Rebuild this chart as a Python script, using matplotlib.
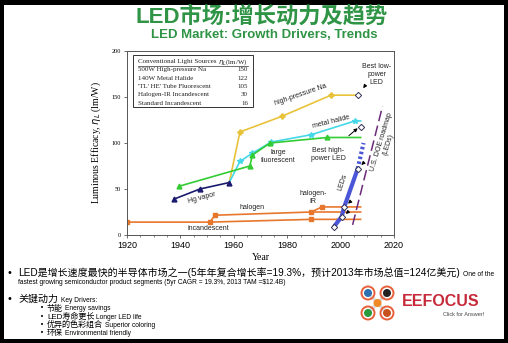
import numpy as np
import matplotlib.pyplot as plt
from matplotlib.patches import Rectangle, Circle
from matplotlib.ticker import MultipleLocator

# data
hg_years = [1937.6, 1947.3, 1958.3]
hg_vals = [39, 50, 57]
fluor_years = [1939.5, 1966, 1967, 1973.6, 1995, 2007.5]
fluor_vals = [53, 75, 87, 100, 106, 106]
halide_years = [1958.3, 1962.3, 1967, 1974, 1989, 2005.4, 2007.5]
halide_vals = [57, 80, 89, 101, 109, 124, 124]
na_years = [1958.3, 1962.3, 1978, 1996.4, 2006.5]
na_vals = [57, 112, 129, 152, 152]
incand_years = [1920, 1951, 1989, 2007.5]
incand_vals = [14, 14, 17, 17]
halogen_years = [1951, 1953, 1989, 2007.5]
halogen_vals = [14, 21.5, 25, 25]
halir_years = [1989, 1993, 2007.5]
halir_vals = [25, 30.5, 30.5]
led_years = [1997.5, 2000.4, 2001.3, 2006.4]
led_vals = [9, 20, 30, 72]
led_proj_years = [2006.4, 2008.6]
led_proj_vals = [72, 100]
best_years = [1997.5, 2000.4, 2001.3, 2006.4, 2007.5, 2006.5]
best_vals = [9, 20, 30, 72, 117, 152]
doe_years = [2004.5, 2015.7]
doe_vals = [11, 140]

table_sources = ["500W High-pressure Na", "140W Metal Halide",
                 "'TL' HE' Tube Fluorescent", "Halogen-IR Incandescent",
                 "Standard Incandescent"]
table_eff = [150, 122, 105, 30, 16]

W, H = 508, 343
def fx(x): return x / W
def fy(y): return 1 - y / H

fig = plt.figure(figsize=(W / 100, H / 100), dpi=100, facecolor='black')
fig.patches.append(Rectangle((4 / W, 4 / H), 500 / W, 334 / H,
                             transform=fig.transFigure, facecolor='white',
                             edgecolor='none', zorder=-10))

cjk = ['Liberation Sans', 'Noto Sans CJK SC']
green = '#2f9445'
fig.text(fx(262), fy(17), "LED市场:增长动力及趋势", family=cjk, fontsize=16,
         fontweight='bold', color=green, ha='center', va='center')
fig.text(fx(264), fy(35), "LED Market: Growth Drivers, Trends",
         family='Liberation Sans', fontsize=9.5, fontweight='bold',
         color=green, ha='center', va='center')

ax = fig.add_axes([127 / W, 1 - 235 / H, 267 / W, 184 / H])
ax.set_facecolor('white')

orange = '#e8772e'
ax.plot(incand_years, incand_vals, color=orange, lw=1.2, marker='s', ms=3.5,
        markevery=[0, 1, 2])
ax.plot(halogen_years, halogen_vals, color=orange, lw=1.2, marker='s', ms=3.5,
        markevery=[1, 2])
ax.plot(halir_years, halir_vals, color=orange, lw=1.2, marker='s', ms=3.5,
        markevery=[1])
ax.plot(na_years, na_vals, color='#e8c33a', lw=1.2, marker='P', ms=3.5,
        markevery=[1, 2, 3])
ax.plot(halide_years, halide_vals, color='#45d8e8', lw=1.2, marker='*', ms=4,
        markevery=[1, 2, 3, 4, 5])
ax.plot(fluor_years, fluor_vals, color='#33cc33', lw=1.2, marker='^', ms=3.5,
        markevery=[0, 1, 2, 3, 4])
ax.plot(hg_years, hg_vals, color='#1a1a70', lw=1.2, marker='^', ms=3.5)
ax.plot(led_years, led_vals, color='#4a55d8', lw=3, solid_capstyle='butt')
ax.plot(led_proj_years, led_proj_vals, color='#4a55d8', lw=3, ls=(0, (0.6, 0.6)))
ax.plot(doe_years, doe_vals, color='#6b2a7a', lw=1.1, ls=(0, (7, 3)))
ax.plot(best_years, best_vals, ls='none', marker='D', ms=3.2, mfc='white',
        mec='#333355', mew=0.7, zorder=5)

arr = dict(arrowstyle='-|>', color='black', lw=0.7, mutation_scale=5)
ax.annotate('', xy=(2007.2, 118), xytext=(2002.3, 106), arrowprops=arr)
ax.annotate('', xy=(2007.9, 157), xytext=(2009.8, 165), arrowprops=arr)
ax.annotate('', xy=(2002.0, 32), xytext=(2004.3, 38), arrowprops=arr)
ax.annotate('', xy=(2001.1, 21), xytext=(2003.2, 26), arrowprops=arr)
ax.annotate('', xy=(2007.0, 74), xytext=(2009.2, 80), arrowprops=arr)

lab = dict(family='Liberation Sans', fontsize=5, color='#222222',
           ha='center', va='center')
ax.text(1985, 152, "high-pressure Na", rotation=19, **lab)
ax.text(1996.4, 123, "metal halide", rotation=14, **lab)
ax.text(1976.5, 85, "large\nfluorescent", **lab)
ax.text(1995.3, 88, "Best high-\npower LED", **lab)
ax.text(2013.5, 174, "Best low-\npower\nLED", **lab)
ax.text(1948, 40, "Hg vapor", rotation=15, **lab)
ax.text(1967, 30, "halogen", **lab)
ax.text(1989.7, 41, "halogen-\nIR", **lab)
ax.text(1950.4, 7.6, "incandescent", **lab)
ax.text(2000.6, 57, "LEDs", rotation=72, **lab)
ax.text(2016.6, 100, "U.S. DOE roadmap\n(LEDs)", rotation=73, **lab)

# conventional sources table
ax.add_patch(Rectangle((0.022, 0.696), 0.45, 0.282, transform=ax.transAxes,
                       facecolor='white', edgecolor='#333333', lw=0.7, zorder=6))
serif = dict(family='Liberation Serif', fontsize=5, color='#222222',
             va='center', transform=ax.transAxes, zorder=7)
ax.text(0.041, 0.942, "Conventional Light Sources", ha='left', **serif)
ax.text(0.453, 0.942, r"$\eta_L$(lm/W)", ha='right', **serif)
ax.plot([0.041, 0.453], [0.921, 0.921], color='#333333', lw=0.5,
        transform=ax.transAxes, zorder=7)
for i, (src, eff) in enumerate(zip(table_sources, table_eff)):
    yy = 0.897 - i * 0.045
    ax.text(0.041, yy, src, ha='left', **serif)
    ax.text(0.453, yy, str(eff), ha='right', **serif)

ax.set_xlim(1920, 2020)
ax.set_ylim(0, 200)
ax.xaxis.set_major_locator(MultipleLocator(20))
ax.xaxis.set_minor_locator(MultipleLocator(5))
ax.yaxis.set_major_locator(MultipleLocator(50))
for s in ax.spines.values():
    s.set_color('#555555')
    s.set_linewidth(0.7)
ax.tick_params(axis='both', which='major', length=2.5, width=0.6, color='#555555')
ax.tick_params(axis='x', which='minor', length=1.5, width=0.5, color='#555555')
ax.tick_params(axis='x', labelsize=6.5, pad=2)
ax.tick_params(axis='y', labelsize=4.5, pad=2)
for t in ax.get_xticklabels():
    t.set_family('Liberation Sans')
for t in ax.get_yticklabels():
    t.set_family('Liberation Serif')
ax.set_xlabel("Year", family='Liberation Serif', fontsize=7, labelpad=2)
ax.set_ylabel(r"Luminous Efficacy, $\eta_L$ (lm/W)", family='Liberation Serif',
              fontsize=7, labelpad=6)

# bottom bullets (y given as baseline in pixels from top)
renderer = fig.canvas.get_renderer()
def pair(x, y, s1, size1, s2, size2, gap=3):
    t = fig.text(fx(x), fy(y), s1, family=cjk, fontsize=size1, va='baseline')
    bb = t.get_window_extent(renderer)
    fig.text((bb.x1 + gap) / W, fy(y), s2, family='Liberation Sans',
             fontsize=size2, va='baseline')

fig.text(fx(7), fy(275.5), "•", fontsize=7, va='baseline', family='DejaVu Sans')
pair(18, 275.5, "LED是增长速度最快的半导体市场之一(5年年复合增长率=19.3%，预计2013年市场总值=124亿美元)",
     7.2, "One of the", 4.8)
fig.text(fx(18), fy(284.5), "fastest growing semiconductor product segments (5yr CAGR = 19.3%, 2013 TAM =$12.4B)",
         family='Liberation Sans', fontsize=4.8, va='baseline')
fig.text(fx(7), fy(301.5), "•", fontsize=7, va='baseline', family='DejaVu Sans')
pair(18, 301.5, "关键动力", 7.2, "Key Drivers:", 4.8)
subs = [("节能", "Energy savings"), ("LED寿命更长", "Longer LED life"),
        ("优异的色彩组合", "Superior coloring"), ("环保", "Environmental friendly")]
for i, (c, e) in enumerate(subs):
    yy = 310.5 + i * 8.1
    fig.text(fx(40), fy(yy), "•", fontsize=5, va='baseline', family='DejaVu Sans')
    pair(47, yy, c, 5.8, e, 4.8, gap=2)

# logo
lax = fig.add_axes([355 / W, 1 - 323 / H, 50 / W, 40 / H])
lax.set_xlim(0, 50)
lax.set_ylim(0, 40)
lax.set_aspect('equal')
lax.axis('off')
for (cx, cy), col in zip([(13, 30), (32, 30), (13, 10), (32, 10)],
                         ['#2e6fb0', '#222222', '#2a9a3a', '#c8521e']):
    lax.plot([cx, 22.5], [cy, 20], color='#dddddd', lw=2.5, zorder=1)
    lax.add_patch(Circle((cx, cy), 6.5, facecolor='none', edgecolor='#e8603a', lw=1.4, zorder=2))
    lax.add_patch(Circle((cx, cy), 4, facecolor=col, edgecolor='none', zorder=3))
lax.add_patch(Circle((22.5, 20), 4, facecolor='#f08a24', edgecolor='none', zorder=3))
fig.text(fx(441), fy(301), "EEFOCUS", family='Liberation Sans', fontsize=11.5,
         fontweight='bold', color='#c62a3a', ha='center', va='center')
fig.text(fx(464), fy(314), "Click for Answer!", family='Liberation Sans',
         fontsize=4, color='#444444', ha='center', va='center')

fig.savefig('out.png', dpi=100, facecolor='black')
